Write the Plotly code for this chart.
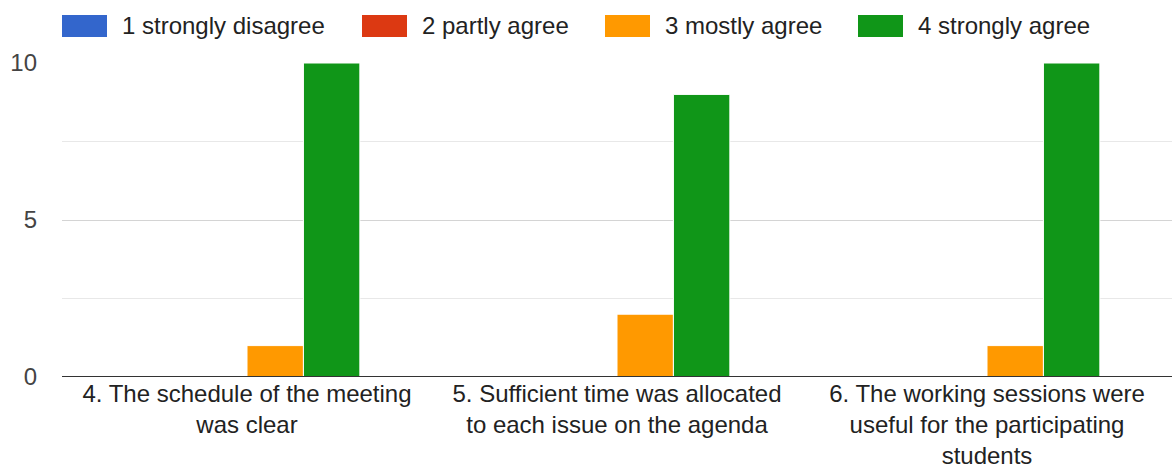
import plotly.graph_objects as go

categories = [
    "4. The schedule of the meeting<br>was clear",
    "5. Sufficient time was allocated<br>to each issue on the agenda",
    "6. The working sessions were<br>useful for the participating<br>students",
]
series_names = ["1 strongly disagree", "2 partly agree", "3 mostly agree", "4 strongly agree"]
strongly_disagree = [0, 0, 0]
partly_agree = [0, 0, 0]
mostly_agree = [1, 2, 1]
strongly_agree = [10, 9, 10]
series_values = [strongly_disagree, partly_agree, mostly_agree, strongly_agree]
colors = ["#3366cc", "#dc3912", "#ff9900", "#109618"]
y_tick_vals = [0, 5, 10]

FONT = "Liberation Sans, Arial, sans-serif"
W, H = 1172, 468
ML, MR, MT, MB = 62, 0, 63, 91
PW, PH = W - ML - MR, H - MT - MB

fig = go.Figure()
for name, vals, c in zip(series_names, series_values, colors):
    fig.add_trace(go.Bar(
        x=categories, y=vals, name=name, marker_color=c,
        marker_line_color="white", marker_line_width=1,
        showlegend=False,
    ))

# manual legend (wide rectangular swatches like Google Charts)
box_left_px = [62, 362, 605, 858]
box_w, box_top, box_bot = 45, 15, 37
def px_x(p):
    return (p - ML) / PW
def px_y(p):
    return (H - MB - p) / PH
for name, c, bx in zip(series_names, colors, box_left_px):
    fig.add_shape(type="rect", xref="paper", yref="paper",
                  x0=px_x(bx), x1=px_x(bx + box_w), y0=px_y(box_bot), y1=px_y(box_top),
                  fillcolor=c, line=dict(color=c, width=0))
    fig.add_annotation(xref="paper", yref="paper", x=px_x(bx + box_w + 13), y=px_y((box_top + box_bot) / 2),
                       text=name, showarrow=False, xanchor="left", yanchor="middle",
                       font=dict(family=FONT, size=24, color="#222222"))

# baseline drawn above bars
fig.add_shape(type="line", xref="paper", yref="y", x0=0, x1=1, y0=0, y1=0,
              line=dict(color="#333333", width=2), layer="above")

fig.update_layout(
    width=W, height=H,
    margin=dict(l=ML, r=MR, t=MT, b=MB, autoexpand=False),
    paper_bgcolor="white", plot_bgcolor="white",
    barmode="group", bargap=0.39, bargroupgap=0,
    font=dict(family=FONT, size=24, color="#222222"),
)
fig.update_xaxes(
    showgrid=False, showline=False, zeroline=False,
    tickfont=dict(family=FONT, size=24, color="#222222"),
    ticks="", ticklabelstandoff=0, fixedrange=True,
)
fig.update_yaxes(
    range=[0, 10], tickvals=y_tick_vals, ticktext=[str(v) for v in y_tick_vals],
    showgrid=True, gridcolor="#d4d4d4", gridwidth=1,
    minor=dict(dtick=2.5, showgrid=True, gridcolor="#e8e8e8", gridwidth=1),
    zeroline=False,
    showline=False, ticks="", ticklabelstandoff=24,
    tickfont=dict(family=FONT, size=24, color="#444444"),
    fixedrange=True,
)
fig.write_html("out.html", config={"displayModeBar": False},
               post_script="document.body.style.margin='0';")
